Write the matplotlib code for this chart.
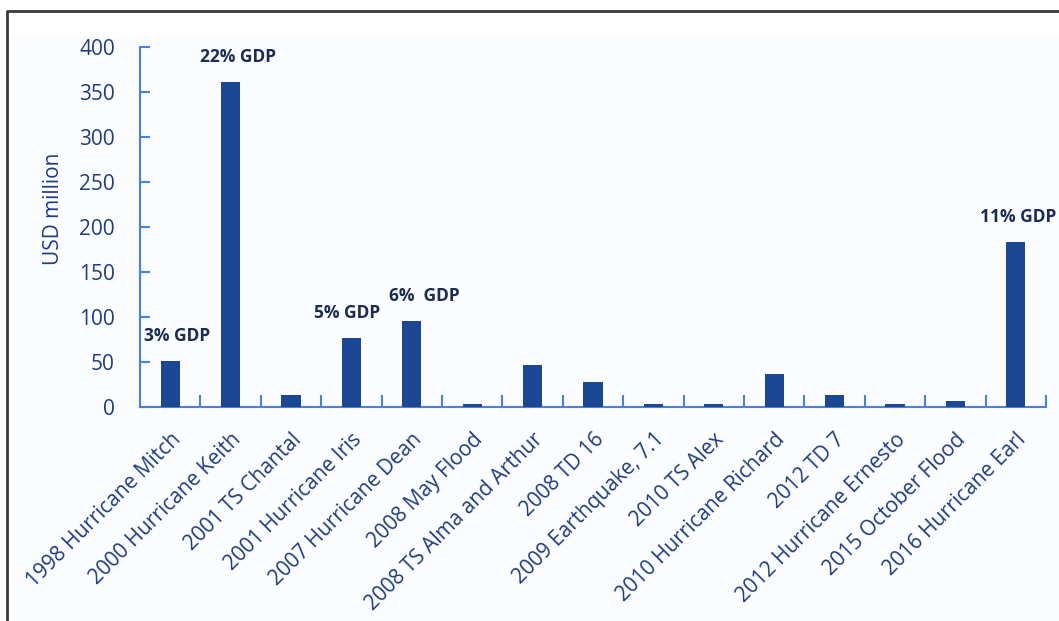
import matplotlib.pyplot as plt
from matplotlib.lines import Line2D
from matplotlib.patches import Rectangle

plt.rcParams['font.family'] = ['Open Sans', 'DejaVu Sans']

# Disaster events and estimated damage (USD million)
events = ['1998 Hurricane Mitch', '2000 Hurricane Keith', '2001 TS Chantal',
          '2001 Hurricane Iris', '2007 Hurricane Dean', '2008 May Flood',
          '2008 TS Alma and Arthur', '2008 TD 16', '2009 Earthquake, 7.1',
          '2010 TS Alex', '2010 Hurricane Richard', '2012 TD 7',
          '2012 Hurricane Ernesto', '2015 October Flood', '2016 Hurricane Earl']
damage = [51, 361, 13, 76, 95, 3, 46, 28, 3, 3, 36, 13, 3, 6, 183]

# Share of GDP labels for the largest events
gdp_events = ['1998 Hurricane Mitch', '2000 Hurricane Keith', '2001 Hurricane Iris',
              '2007 Hurricane Dean', '2016 Hurricane Earl']
gdp_labels = ['3% GDP', '22% GDP', '5% GDP', '6%  GDP', '11% GDP']

bar_color = '#1c4794'
text_color = '#1f3c7c'
spine_color = '#4a82da'

fig = plt.figure(figsize=(10.59, 6.21), dpi=100, facecolor='white')

# light panel and dark frame around the chart
fig.patches.append(Rectangle((9 / 1059, 0), 1, 1 - 37 / 621, transform=fig.transFigure,
                             facecolor='#fafcfe', edgecolor='none', zorder=-1))
fig.lines.append(Line2D([7 / 1059, 7 / 1059, 1], [0, 1 - 11 / 621, 1 - 11 / 621],
                        transform=fig.transFigure, color='#3a3a3a', linewidth=2))

ax = fig.add_axes([140 / 1059, 1 - 406.7 / 621, 906 / 1059, 360 / 621])
ax.set_facecolor('none')

x = range(len(events))
ax.bar(x, damage, width=0.32, color=bar_color, zorder=3)

# GDP annotations above bars
x_shift = [0.11, 0.12, -0.07, 0.2, 0.04]
for name, lab, dx in zip(gdp_events, gdp_labels, x_shift):
    i = events.index(name)
    ax.text(i + dx, damage[i] + 28, lab, ha='center', va='center',
            fontsize=12.5, fontweight='bold', color='#1b2b52')

ax.set_xlim(-0.5, len(events) - 0.5)
ax.set_ylim(0, 400)
ax.set_yticks(range(0, 401, 50))
ax.tick_params(axis='y', direction='in', length=7, width=1.5, color=spine_color,
               labelsize=15, labelcolor=text_color, pad=18)

# category labels at bar centres, tick marks at category boundaries
ax.set_xticks(list(x))
ax.set_xticklabels(events, rotation=45, ha='right', rotation_mode='anchor')
ax.tick_params(axis='x', which='major', length=0, labelsize=15,
               labelcolor=text_color, pad=16)
ax.set_xticks([i + 0.5 for i in x], minor=True)
ax.tick_params(axis='x', which='minor', direction='in', length=9, width=1.5,
               color=spine_color)

for side in ['top', 'right']:
    ax.spines[side].set_visible(False)
for side in ['left', 'bottom']:
    ax.spines[side].set_color(spine_color)
    ax.spines[side].set_linewidth(1.5)

ax.set_ylabel('USD million', fontsize=15, color='#1f3c7c')
ax.yaxis.set_label_coords(-0.084, 0.55)

fig.savefig('out.png', dpi=100)
